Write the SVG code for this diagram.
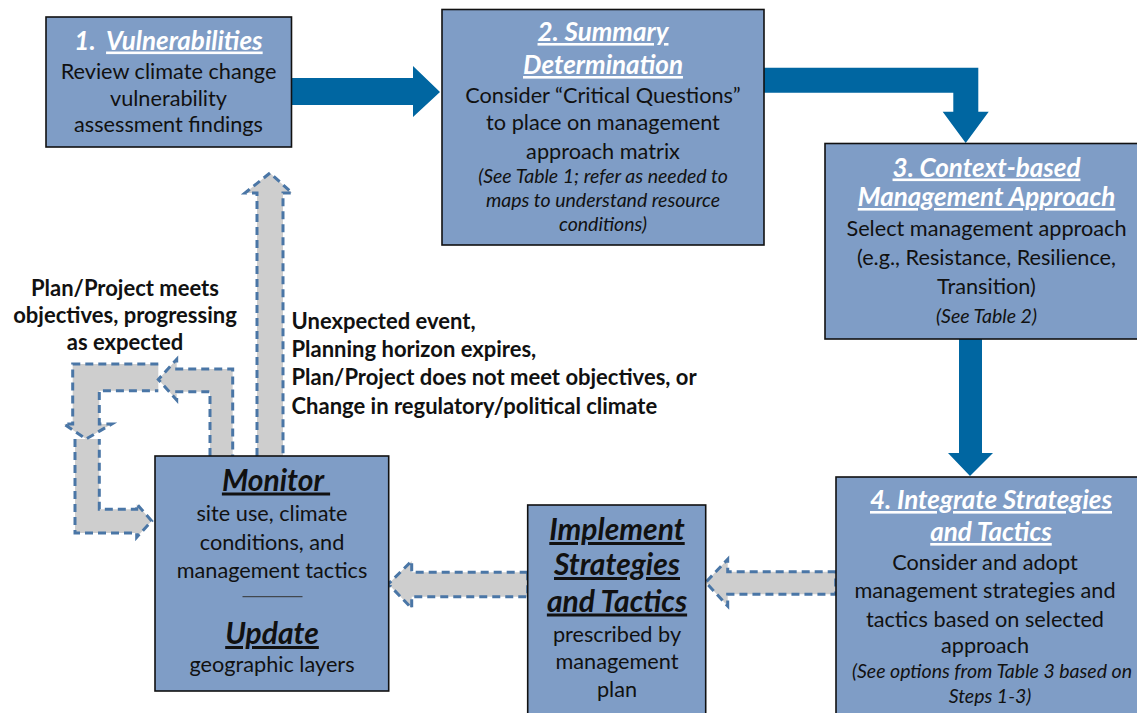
<svg xmlns="http://www.w3.org/2000/svg" width="1137" height="713" viewBox="0 0 1137 713">
  <style>
    .box { fill: #7f9dc6; stroke: #111; stroke-width: 1.6; }
    .flow { fill: #0066a1; }
    .loop { fill: #cecece; stroke: #4a76a6; stroke-width: 3; stroke-dasharray: 8 5; stroke-linejoin: miter; }
    text { font-family: "Lato", "Open Sans", sans-serif; text-anchor: middle; fill: #111; }
    .body { font-size: 21.7px; }
    .note { font-size: 19.5px; font-style: italic; }
    .step { font-size: 26px; font-weight: bold; font-style: italic; fill: #fff; }
    .head { font-size: 30px; font-weight: bold; font-style: italic; }
    .lbl { font-size: 22px; font-weight: bold; }
    .u { text-decoration: underline; }
    .left { text-anchor: start; }
  </style>

  <!-- connectors -->
  <g id="connectors">
    <!-- solid flow arrows between numbered steps -->
    <path class="flow" d="M291,78 H413 V66 L440,92 L413,117 V105 H291 Z"/>
    <path class="flow" d="M764,67.7 H978.3 V111.7 H988.7 L965.7,143 L942.7,111.7 H953.3 V92.7 H764 Z"/>
    <path class="flow" d="M959,339 H982 V453 H993 L970,476 L948,453 H959 Z"/>

    <!-- dashed return arrows -->
    <path class="loop" d="M835.7,571.7 H727.7 V559.3 L705.7,582.3 L727.7,606 V594.3 H835.7 Z"/>
    <path class="loop" d="M527.7,572.3 H411.7 V561 L388.3,584 L411.7,608.3 V596.7 H527.7 Z"/>
    <path class="loop" d="M257,456 V193 H245 L270,173 L292,193 H283 V456"/>

    <!-- monitoring loop: up, left, down, back into Monitor -->
    <path class="loop" d="M75,439 V533 H136.7 V537.3 L151.7,521 L136.7,504 V509.3 H99.3 V439"/>
    <path class="loop" d="M158.3,364 H72.7 V424 H64 L86,439 L111.7,424 H99.3 V390.7 H158.3"/>
    <path class="loop" d="M210,456 V391.7 H176.7 V400 L158.3,379.5 L176.7,359.3 V369 H232.7 V456"/>
  </g>

  <g id="vulnerabilities">
    <rect class="box" x="46" y="17" width="245.5" height="130"/>
    <text class="step" x="168.5" y="49.5" xml:space="preserve">1.  <tspan class="u">Vulnerabilities</tspan></text>
    <text class="body" x="168.5" y="79">Review climate change</text>
    <text class="body" x="168.5" y="106">vulnerability</text>
    <text class="body" x="168.5" y="132">assessment findings</text>
  </g>

  <g id="summary">
    <rect class="box" x="442" y="9.5" width="322" height="235.5"/>
    <text class="step u" x="603" y="41">2. Summary</text>
    <text class="step u" x="603" y="74">Determination</text>
    <text class="body" x="603" y="102.5">Consider “Critical Questions”</text>
    <text class="body" x="603" y="130">to place on management</text>
    <text class="body" x="603" y="159">approach matrix</text>
    <text class="note" x="603" y="183">(See Table 1; refer as needed to</text>
    <text class="note" x="603" y="207">maps to understand resource</text>
    <text class="note" x="603" y="230.5">conditions)</text>
  </g>

  <g id="context">
    <rect class="box" x="825" y="143.5" width="325" height="195.5"/>
    <text class="step u" x="986.5" y="176.5">3. Context-based</text>
    <text class="step u" x="986.5" y="206">Management Approach</text>
    <text class="body" x="986.5" y="236">Select management approach</text>
    <text class="body" x="986.5" y="265">(e.g., Resistance, Resilience,</text>
    <text class="body" x="986.5" y="294">Transition)</text>
    <text class="note" x="986.5" y="323">(See Table 2)</text>
  </g>

  <g id="integrate">
    <rect class="box" x="836" y="477" width="314" height="250"/>
    <text class="step u" x="991" y="509">4. Integrate Strategies</text>
    <text class="step u" x="991" y="541">and Tactics</text>
    <text class="body" x="985" y="570">Consider and adopt</text>
    <text class="body" x="985" y="598">management strategies and</text>
    <text class="body" x="985" y="626.5">tactics based on selected</text>
    <text class="body" x="985" y="653">approach</text>
    <text class="note" x="992" y="678">(See options from Table 3 based on</text>
    <text class="note" x="990" y="703">Steps 1-3)</text>
  </g>

  <g id="implement">
    <rect class="box" x="527.7" y="505" width="178" height="222"/>
    <text class="head u" x="617" y="540">Implement</text>
    <text class="head u" x="617" y="575">Strategies</text>
    <text class="head u" x="617" y="611.5">and Tactics</text>
    <text class="body" x="617" y="641.5">prescribed by</text>
    <text class="body" x="617" y="669">management</text>
    <text class="body" x="617" y="696.5">plan</text>
  </g>

  <g id="monitor">
    <rect class="box" x="155" y="456" width="233.7" height="235"/>
    <text class="head u" x="276" y="490.5" xml:space="preserve">Monitor </text>
    <text class="body" x="272" y="521">site use, climate</text>
    <text class="body" x="272" y="549.5">conditions, and</text>
    <text class="body" x="272" y="577.5">management tactics</text>
    <line x1="242.5" y1="596.7" x2="302.5" y2="596.7" stroke="#333" stroke-width="1"/>
    <text class="head u" x="272" y="644">Update</text>
    <text class="body" x="272" y="671.5">geographic layers</text>
  </g>

  <g id="labels">
    <text class="lbl" x="125" y="296">Plan/Project meets</text>
    <text class="lbl" x="125" y="323">objectives, progressing</text>
    <text class="lbl" x="125" y="350">as expected</text>
    <text class="lbl left" x="291.5" y="328.5">Unexpected event,</text>
    <text class="lbl left" x="291.5" y="357">Planning horizon expires,</text>
    <text class="lbl left" x="291.5" y="385">Plan/Project does not meet objectives, or</text>
    <text class="lbl left" x="291.5" y="413.5">Change in regulatory/political climate</text>
  </g>
</svg>
